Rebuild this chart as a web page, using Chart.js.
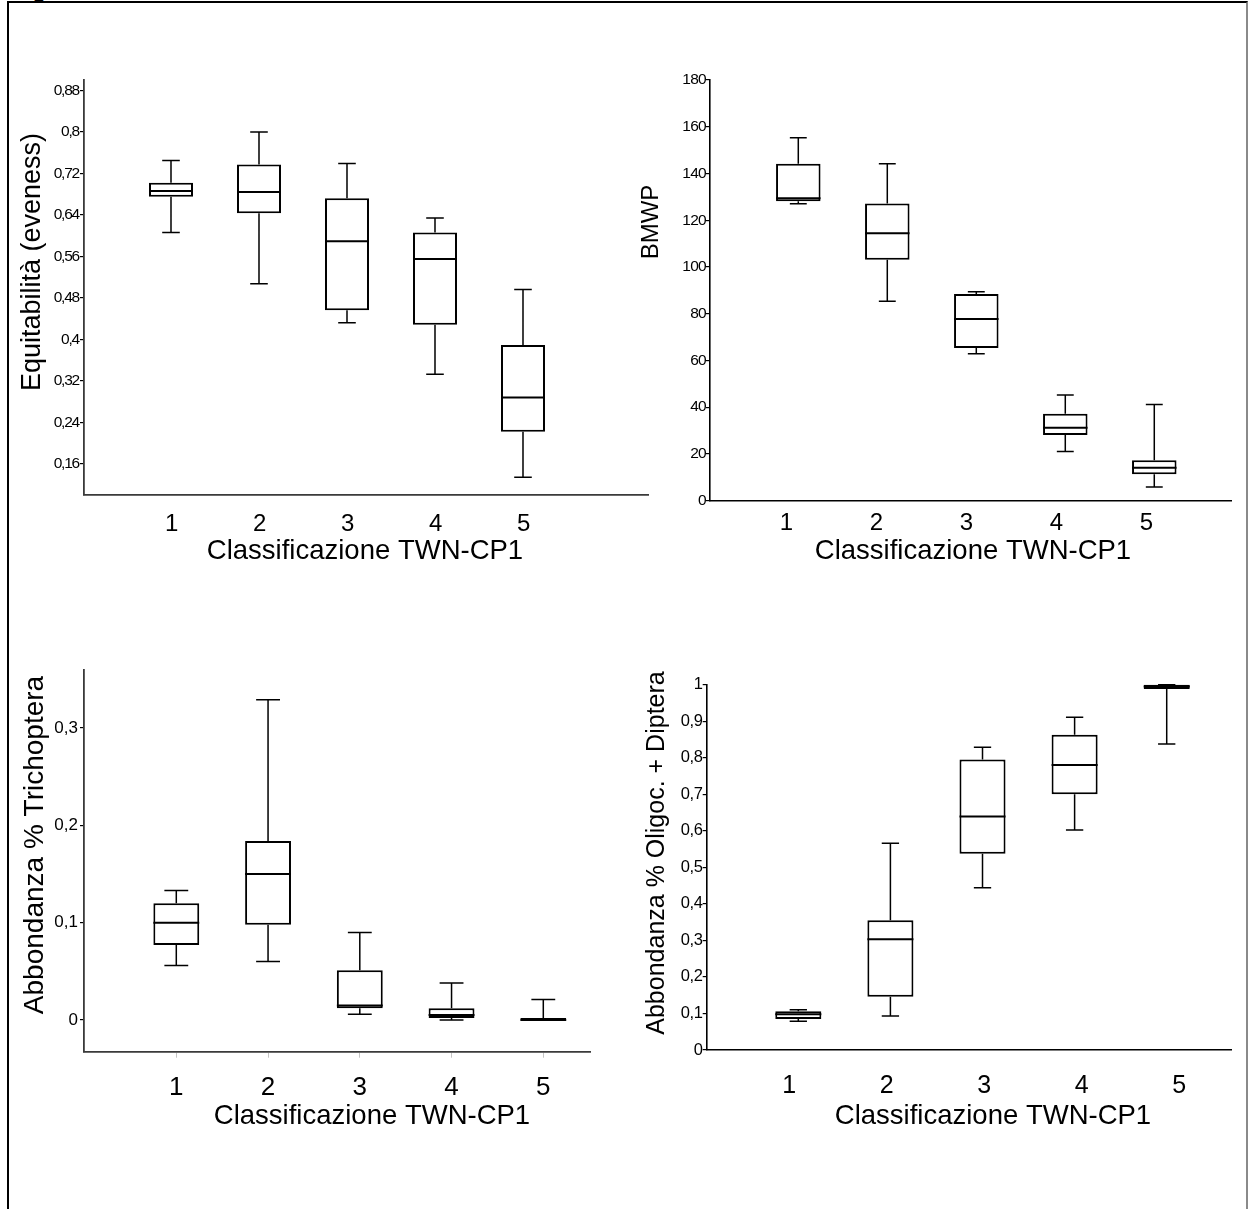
<!DOCTYPE html>
<html>
<head>
<meta charset="utf-8">
<script src="https://cdn.jsdelivr.net/npm/chart.js@4.4.1/dist/chart.umd.min.js"></script>
<style>
  html, body { margin: 0; padding: 0; background: #fff; overflow: hidden; }
  body { width: 1248px; height: 1209px; position: relative; }
  #frame {
    position: absolute; left: 7px; top: 1px; width: 1241px; height: 1300px;
    box-sizing: border-box;
    border-left: 2px solid #000; border-top: 2px solid #000; border-right: 2px solid #8a8a8a;
  }
  #cap {
    position: absolute; left: 13px; top: -21px; white-space: nowrap;
    font: bold 22px 'Liberation Sans', Arial, sans-serif; line-height: 22px;
  }
  canvas { position: absolute; left: 0; top: 0; }
</style>
</head>
<body>
<div id="cap">Figura</div>
<div id="frame"></div>
<canvas id="eq" width="1248" height="1209"></canvas>
<canvas id="bmwp" width="1248" height="1209"></canvas>
<canvas id="trich" width="1248" height="1209"></canvas>
<canvas id="oligo" width="1248" height="1209"></canvas>
<script>
// ---- categories ----
const CLASSES = ['1', '2', '3', '4', '5'];
const CLASS_VALUES = [1, 2, 3, 4, 5];
const X_TITLE = 'Classificazione TWN-CP1';

// ---- Equitabilità (eveness): whisker low, Q1, median, Q3, whisker high ----
const EQ_TICKS = [0.16, 0.24, 0.32, 0.40, 0.48, 0.56, 0.64, 0.72, 0.80, 0.88];
const EQ_LO  = [0.606, 0.507, 0.432, 0.333, 0.134];
const EQ_Q1  = [0.675, 0.643, 0.456, 0.428, 0.222];
const EQ_MED = [0.686, 0.684, 0.589, 0.555, 0.288];
const EQ_Q3  = [0.702, 0.737, 0.672, 0.606, 0.389];
const EQ_HI  = [0.745, 0.800, 0.739, 0.634, 0.496];

// ---- BMWP ----
const BM_TICKS = [0, 20, 40, 60, 80, 100, 120, 140, 160, 180];
const BM_LO  = [127.1, 85.3, 62.9, 21.0, 5.9];
const BM_Q1  = [128.1, 103.1, 65.3, 28.1, 11.3];
const BM_MED = [129.4, 114.4, 77.7, 31.2, 14.1];
const BM_Q3  = [144.2, 127.2, 88.4, 37.2, 17.3];
const BM_HI  = [155.3, 144.2, 89.4, 45.2, 41.2];

// ---- Abbondanza % Trichoptera ----
const TR_TICKS = [0, 0.1, 0.2, 0.3];
const TR_LO  = [0.056, 0.060, 0.006, 0.000, 0.000];
const TR_Q1  = [0.077, 0.098, 0.012, 0.002, 0.000];
const TR_MED = [0.100, 0.150, 0.015, 0.005, 0.000];
const TR_Q3  = [0.120, 0.184, 0.051, 0.012, 0.002];
const TR_HI  = [0.133, 0.329, 0.090, 0.038, 0.021];

// ---- Abbondanza % Oligoc. + Diptera ----
const OD_TICKS = [0, 0.1, 0.2, 0.3, 0.4, 0.5, 0.6, 0.7, 0.8, 0.9, 1];
const OD_LO  = [0.079, 0.093, 0.444, 0.602, 0.838];
const OD_Q1  = [0.085, 0.146, 0.537, 0.700, 0.988];
const OD_MED = [0.098, 0.303, 0.639, 0.780, 0.995];
const OD_Q3  = [0.106, 0.355, 0.795, 0.863, 1.000];
const OD_HI  = [0.110, 0.566, 0.829, 0.911, 1.000];

const FONT = "'Liberation Sans', Arial, Helvetica, sans-serif";
const BOX_W = 0.5; // box width as a fraction of one class step

const W = 1248, H = 1209;
const fmtComma = v => String(+v.toFixed(2)).replace('.', ',');

// tight letter spacing for the value ticks, reset before the titles are drawn
const tickSpacing = {
  id: 'tickSpacing',
  beforeDraw(chart, args, o) { chart.ctx.letterSpacing = o.spacing || '0px'; }
};

// draws the free-standing axis titles of each panel
const axisTitles = {
  id: 'axisTitles',
  afterDraw(chart, args, o) {
    const ctx = chart.ctx;
    ctx.save();
    ctx.letterSpacing = '0px';
    ctx.fillStyle = '#000';
    ctx.textAlign = 'center';
    ctx.textBaseline = 'middle';
    ctx.font = o.xSize + 'px ' + FONT;
    ctx.fillText(o.xText, o.xPos[0], o.xPos[1]);
    ctx.translate(o.yPos[0], o.yPos[1]);
    ctx.rotate(-Math.PI / 2);
    ctx.font = o.ySize + 'px ' + FONT;
    ctx.fillText(o.yText, 0, 0);
    ctx.restore();
  }
};

function boxPanel(id, p) {
  const box = [], med = [], whisk = [];
  for (let i = 0; i < p.q1.length; i++) {
    const x = CLASS_VALUES[i];
    box.push({ x, y: [p.q1[i], p.q3[i]] });
    med.push({ x: x - BOX_W / 2, y: p.med[i] }, { x: x + BOX_W / 2, y: p.med[i] }, { x, y: null });
    whisk.push(
      { x, y: p.lo[i] }, { x, y: p.q1[i] }, { x, y: null },
      { x, y: p.q3[i] }, { x, y: p.hi[i] }, { x, y: null },
      { x: x - p.cap, y: p.lo[i] }, { x: x + p.cap, y: p.lo[i] }, { x, y: null },
      { x: x - p.cap, y: p.hi[i] }, { x: x + p.cap, y: p.hi[i] }, { x, y: null }
    );
  }
  const lineDs = (data, w) => ({
    type: 'line', data, borderColor: '#000', borderWidth: w, borderCapStyle: 'butt',
    pointRadius: 0, pointHitRadius: 0, fill: false, spanGaps: false, tension: 0, clip: false
  });
  const a = p.area; // [left, top, right, bottom] of the plot area on the page
  const yW = 60, xlH = 80;
  return new Chart(document.getElementById(id), {
    type: 'bar',
    data: {
      datasets: [
        lineDs(med, p.bw),
        lineDs(whisk, p.ww),
        {
          type: 'bar', data: box, backgroundColor: '#fff', borderColor: '#000',
          borderWidth: p.bw, borderSkipped: false, grouped: false,
          categoryPercentage: 1, barPercentage: BOX_W, clip: false
        }
      ]
    },
    options: {
      responsive: false, animation: false, devicePixelRatio: 1, events: [],
      layout: { padding: { left: a[0] - yW, top: a[1], right: W - a[2], bottom: H - a[3] - xlH } },
      plugins: {
        legend: { display: false }, tooltip: { enabled: false },
        axisTitles: p.titles,
        tickSpacing: { spacing: p.tickSpacing }
      },
      scales: {
        x: {
          type: 'linear', position: 'bottom', weight: 0, offset: false, min: p.x[0], max: p.x[1],
          afterBuildTicks: s => { s.ticks = CLASS_VALUES.map(v => ({ value: v })); },
          afterFit: s => { s.height = 0; },
          ticks: { display: false },
          grid: { display: true, offset: false, drawOnChartArea: false, drawTicks: p.xTicks, tickLength: 6, color: '#c4c4c4', lineWidth: 1 },
          border: { display: true, color: p.axisColor, width: p.axisW }
        },
        xl: {
          type: 'linear', position: 'bottom', weight: 1, offset: false, min: p.xl[0], max: p.xl[1],
          afterBuildTicks: s => { s.ticks = CLASS_VALUES.map(v => ({ value: v })); },
          afterFit: s => { s.height = xlH; },
          ticks: {
            callback: v => CLASSES[v - 1], autoSkip: false, maxRotation: 0,
            font: { family: FONT, size: p.xlSize }, color: '#000', padding: p.xlPad
          },
          grid: { display: false, drawTicks: false, offset: false }, border: { display: false }
        },
        y: {
          type: 'linear', position: 'left', min: p.y[0], max: p.y[1],
          afterBuildTicks: s => { s.ticks = p.ticks.map(v => ({ value: v })); },
          afterFit: s => { s.width = yW; },
          ticks: {
            callback: fmtComma, autoSkip: false,
            font: { family: FONT, size: p.tickSize }, color: '#000', padding: p.yPad
          },
          grid: { drawOnChartArea: false, drawTicks: true, tickLength: 4, color: '#000', lineWidth: 1.2 },
          border: { display: true, color: p.axisColor, width: p.axisW }
        }
      }
    },
    plugins: [tickSpacing, axisTitles]
  });
}

boxPanel('eq', {
  lo: EQ_LO, q1: EQ_Q1, med: EQ_MED, q3: EQ_Q3, hi: EQ_HI, ticks: EQ_TICKS,
  area: [84, 80, 648, 495], x: [0.0114, 6.4205], xl: [0.0114, 6.4205], y: [0.10, 0.90],
  cap: 0.1, bw: 2, ww: 1.5, axisColor: '#3a3a3a', axisW: 1.8, xTicks: false,
  tickSize: 15.5, tickSpacing: '-1.2px', yPad: 1, xlSize: 24, xlPad: 14.6,
  titles: { xText: X_TITLE, xPos: [365, 551], xSize: 27.5, yText: 'Equitabilità (eveness)', yPos: [33, 262], ySize: 27 }
});

boxPanel('bmwp', {
  lo: BM_LO, q1: BM_Q1, med: BM_MED, q3: BM_Q3, hi: BM_HI, ticks: BM_TICKS,
  area: [710, 80, 1231, 500.7], x: [0.0079, 5.862], xl: [0.156, 5.945], y: [0, 180],
  cap: 0.095, bw: 2, ww: 1.5, axisColor: '#000', axisW: 1.6, xTicks: false,
  tickSize: 15.5, tickSpacing: '-0.7px', yPad: 0, xlSize: 24, xlPad: 7.9,
  titles: { xText: X_TITLE, xPos: [973, 551], xSize: 27.5, yText: 'BMWP', yPos: [651, 222], ySize: 24 }
});

boxPanel('trich', {
  lo: TR_LO, q1: TR_Q1, med: TR_MED, q3: TR_Q3, hi: TR_HI, ticks: TR_TICKS,
  area: [84, 670, 590, 1051.7], x: [-0.006, 5.509], xl: [-0.006, 5.509], y: [-0.0326, 0.3597],
  cap: 0.13, bw: 2, ww: 1.5, axisColor: '#3a3a3a', axisW: 1.8, xTicks: true,
  tickSize: 17, tickSpacing: '0px', yPad: 2, xlSize: 26, xlPad: 20.7,
  titles: { xText: X_TITLE, xPos: [372, 1116], xSize: 27.5, yText: 'Abbondanza % Trichoptera', yPos: [35, 845], ySize: 28 }
});

boxPanel('oligo', {
  lo: OD_LO, q1: OD_Q1, med: OD_MED, q3: OD_Q3, hi: OD_HI, ticks: OD_TICKS,
  area: [706.7, 684.7, 1231, 1050], x: [0.0054, 5.698], xl: [0.156, 5.533], y: [0, 1],
  cap: 0.094, bw: 2, ww: 1.5, axisColor: '#000', axisW: 1.6, xTicks: false,
  tickSize: 16.5, tickSpacing: '-0.3px', yPad: 0, xlSize: 25, xlPad: 21,
  titles: { xText: X_TITLE, xPos: [993, 1116], xSize: 27.5, yText: 'Abbondanza % Oligoc. + Diptera', yPos: [657, 853], ySize: 25 }
});
</script>
</body>
</html>
